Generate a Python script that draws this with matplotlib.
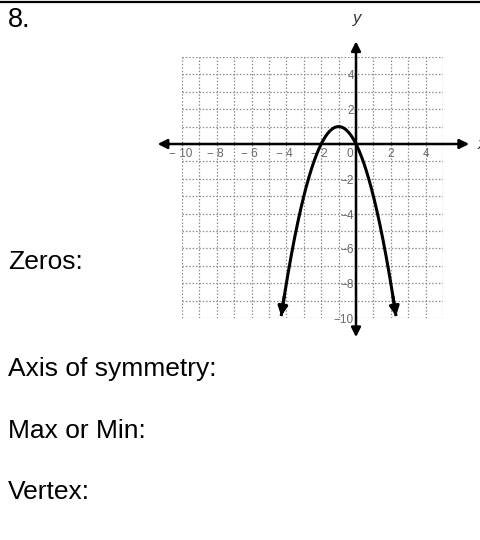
import numpy as np
import matplotlib
matplotlib.use("Agg")
import matplotlib.pyplot as plt

# ---- data ----
problem_number = "8."
prompts = ["Zeros:", "Axis of symmetry:", "Max or Min:", "Vertex:"]
grid_x_range = [-10, 5]
grid_y_range = [-10, 5]
x_tick_values = [-10, -8, -6, -4, -2, 0, 2, 4]
y_tick_values = [4, 2, -2, -4, -6, -8, -10]
# parabola y = a*(x - h)^2 + k
parab_a = -1.0
parab_h = -1.0
parab_k = 1.0
parab_x_ends = [-4.3, 2.3]

plt.rcParams['font.family'] = ['Liberation Sans', 'DejaVu Sans']

W, H = 480, 540
fig = plt.figure(figsize=(W / 100, H / 100), dpi=100)

# top rule
fig.add_artist(plt.Line2D([0, 1], [1 - 1.5 / H, 1 - 1.5 / H], color='black', lw=1.6,
                          transform=fig.transFigure))

fig.text(8 / W, 1 - 7 / H, problem_number, fontsize=19.5, va='top', ha='left')

ypos = [262, 369, 431, 492]
for t, yp in zip(prompts, ypos):
    fig.text(8 / W, 1 - yp / H, t, fontsize=19, va='center', ha='left')

# axes: grid region
left, right, top, bottom = 182, 443, 57, 318
ax = fig.add_axes([left / W, 1 - bottom / H, (right - left) / W, (bottom - top) / H])
ax.set_xlim(*grid_x_range)
ax.set_ylim(*grid_y_range)
ax.axis('off')

grid_col = '#8c8c8c'
for gx in range(grid_x_range[0], grid_x_range[1] + 1):
    ax.plot([gx, gx], grid_y_range, color=grid_col, lw=0.9, ls=(0, (1.2, 1.5)), zorder=1)
for gy in range(grid_y_range[0], grid_y_range[1] + 1):
    ax.plot(grid_x_range, [gy, gy], color=grid_col, lw=0.9, ls=(0, (1.2, 1.5)), zorder=1)

# axes with arrows
ap = dict(arrowstyle='<|-|>', lw=1.8, color='black', mutation_scale=14, shrinkA=0, shrinkB=0)
ax.annotate('', xy=(-11.4, 0), xytext=(6.5, 0), arrowprops=ap, annotation_clip=False, zorder=3)
ax.annotate('', xy=(0, 5.9), xytext=(0, -11.1), arrowprops=ap, annotation_clip=False, zorder=3)
ax.text(7.0, 0, 'x', fontsize=12, style='italic', va='center', ha='left', color='#333333')
ax.text(0.05, 7.2, 'y', fontsize=12, style='italic', va='center', ha='center', color='#333333')

lab_col = '#6a6a6a'
for v in x_tick_values:
    s = '0' if v == 0 else ('\u2212 ' + str(abs(v)) if v < 0 else str(v))
    xx = -0.35 if v == 0 else v
    if v < 0:
        xx = v - 0.1
    ax.text(xx, -0.55, s, fontsize=8.5, color=lab_col, ha='center', va='center', zorder=2)
for v in y_tick_values:
    s = '\u2212' + str(abs(v)) if v < 0 else str(v)
    ax.text(-0.12, v - 0.12, s, fontsize=8.5, color=lab_col, ha='right', va='center', zorder=2)

# parabola
xs = np.linspace(parab_x_ends[0], parab_x_ends[1], 300)
ys = parab_a * (xs - parab_h) ** 2 + parab_k
ax.plot(xs, ys, color='black', lw=2.2, zorder=4, clip_on=False, solid_capstyle='butt')
pa = dict(arrowstyle='-|>', lw=2.2, color='black', mutation_scale=14, shrinkA=0, shrinkB=0)
ax.annotate('', xy=(xs[0], ys[0]), xytext=(xs[8], ys[8]), arrowprops=pa, annotation_clip=False, zorder=5)
ax.annotate('', xy=(xs[-1], ys[-1]), xytext=(xs[-9], ys[-9]), arrowprops=pa, annotation_clip=False, zorder=5)

fig.savefig('out.png', dpi=100)
